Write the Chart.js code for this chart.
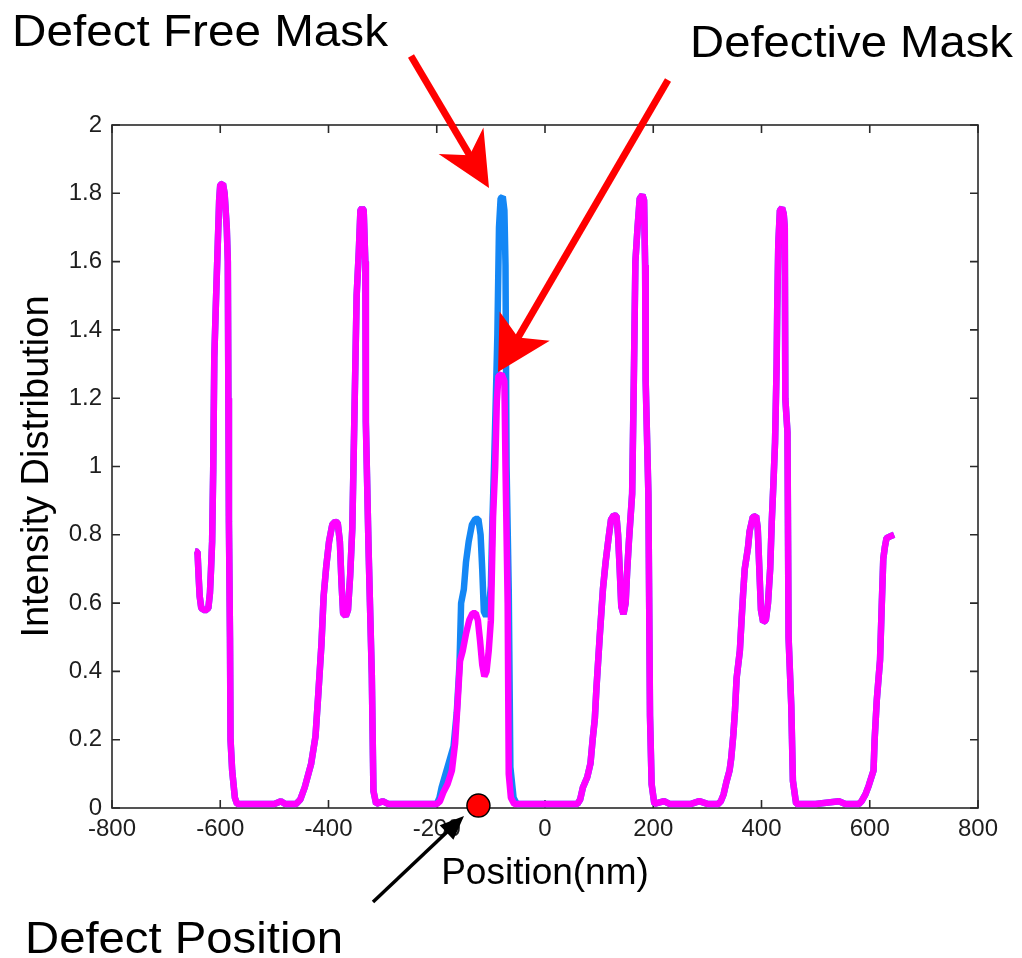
<!DOCTYPE html>
<html><head><meta charset="utf-8">
<script src="https://cdn.jsdelivr.net/npm/chart.js@4.4.1/dist/chart.umd.min.js"></script>
<style>html,body{margin:0;padding:0;background:#fff;}canvas{display:block;}</style>
</head><body>
<canvas id="c" width="1022" height="958" style="width:1022px;height:958px"></canvas>
<script>
// ---- tick values / labels ----
const xTickValues = [-800,-600,-400,-200,0,200,400,600,800];
const xTickLabels = ['-800','-600','-400','-200','0','200','400','600','800'];
const yTickValues = [0,0.2,0.4,0.6,0.8,1,1.2,1.4,1.6,1.8,2];
const yTickLabels = ['0','0.2','0.4','0.6','0.8','1','1.2','1.4','1.6','1.8','2'];

// ---- series (position in nm, intensity) ----
// left part, identical for both masks
const sharedLeftX = [-647,-642,-640,-638,-635,-628,-622,-619,-617,-615,-613,-611,-608,-605,-602,-600,-595,-592,-588,-586,-585,-584,-582,-581,-578,-573,-569,-540,-500,-488,-480,-460,-452,-444,-432,-424,-419,-413,-409,-404,-399,-393,-388,-383,-379,-376,-373,-368,-364,-360,-356,-352,-348,-344,-341,-338,-335,-332,-331,-326,-320,-317,-312,-300,-290,-250,-220];
const sharedLeftY = [0.752,0.75,0.68,0.62,0.585,0.578,0.585,0.63,0.70,0.78,0.99,1.32,1.48,1.63,1.78,1.825,1.828,1.80,1.70,1.60,1.20,0.84,0.50,0.20,0.11,0.03,0.012,0.012,0.012,0.02,0.012,0.012,0.025,0.06,0.13,0.21,0.33,0.48,0.62,0.71,0.78,0.83,0.838,0.835,0.78,0.66,0.57,0.562,0.58,0.68,0.82,1.16,1.50,1.63,1.75,1.757,1.75,1.60,1.13,0.76,0.39,0.05,0.012,0.02,0.012,0.012,0.012];

// central period: defect free mask
const freeCenterX = [-200,-195,-191,-180,-169,-163,-158,-155,-150,-146,-141,-135,-129,-123,-119,-116,-113,-109,-104,-100,-97,-94,-91,-88,-85,-82,-78,-75,-73,-71,-67,-64,-58,-52,-20];
const freeCenterY = [0.012,0.03,0.06,0.12,0.18,0.28,0.42,0.60,0.64,0.72,0.78,0.83,0.846,0.846,0.80,0.70,0.575,0.562,0.58,0.65,0.85,1.01,1.19,1.385,1.70,1.785,1.79,1.75,1.59,1.00,0.64,0.12,0.03,0.012,0.012];

// central period: defective mask
const defCenterX = [-200,-194,-188,-180,-172,-166,-161,-157,-152,-146,-140,-134,-128,-124,-120,-116,-112,-108,-104,-100,-96,-92,-89,-86,-80,-75,-73,-69,-67,-63,-57,-20];
const defCenterY = [0.012,0.02,0.045,0.07,0.11,0.19,0.32,0.43,0.46,0.51,0.55,0.57,0.57,0.55,0.49,0.42,0.385,0.40,0.46,0.55,0.85,1.00,1.19,1.265,1.27,1.25,1.00,0.60,0.10,0.03,0.012,0.012];

// right part, identical for both masks
const sharedRightX = [20,40,60,65,70,78,84,88,92,95,101,107,112,117,122,127,132,135,138,141,145,149,152,155,158,161,164,167,171,175,180,183,185,186,191,194,197,202,220,230,270,285,300,320,325,330,335,341,344,348,351,354,360,363,366,369,375,378,384,390,393,396,399,403,408,412,416,419,422,425,428,429,431,434,438,441,443,444,448,450,455,458,464,500,543,555,580,585,592,598,603,607,609,613,616,619,622,625,628,631,637,645];
const sharedRightY = [0.012,0.012,0.012,0.025,0.06,0.09,0.13,0.20,0.26,0.35,0.50,0.64,0.72,0.785,0.845,0.857,0.855,0.80,0.70,0.59,0.568,0.60,0.70,0.78,0.85,0.92,1.24,1.60,1.70,1.785,1.795,1.78,1.59,1.25,0.92,0.27,0.07,0.012,0.02,0.012,0.012,0.02,0.012,0.012,0.02,0.04,0.075,0.11,0.145,0.215,0.285,0.38,0.46,0.545,0.627,0.70,0.762,0.81,0.852,0.855,0.82,0.70,0.58,0.545,0.55,0.60,0.70,0.84,0.95,1.07,1.30,1.456,1.65,1.75,1.757,1.74,1.70,1.20,1.10,0.50,0.30,0.08,0.012,0.012,0.02,0.012,0.012,0.02,0.04,0.065,0.09,0.11,0.20,0.316,0.375,0.433,0.585,0.73,0.765,0.79,0.795,0.80];

// defect location
const defectX = [-123];
const defectY = [0.007];

// ---- build point tables ----
function zip(xs, ys){ return xs.map((x,i)=>({x:x, y:ys[i]})); }
const freePoints = zip(sharedLeftX, sharedLeftY).concat(zip(freeCenterX, freeCenterY), zip(sharedRightX, sharedRightY));
const defPoints  = zip(sharedLeftX, sharedLeftY).concat(zip(defCenterX, defCenterY), zip(sharedRightX, sharedRightY));
const defectPoints = zip(defectX, defectY);

const FONT = '"Liberation Sans", Arial, Helvetica, sans-serif';

const framePlugin = {
  id:'frame',
  beforeDatasetsDraw(chart){
    const {ctx, chartArea:a, scales} = chart;
    const x = scales.x, y = scales.y;
    ctx.save();
    ctx.strokeStyle = '#2a2a2a';
    ctx.lineWidth = 1.6;
    ctx.strokeRect(a.left, a.top, a.right - a.left, a.bottom - a.top);
    const L = 8;
    ctx.beginPath();
    x.ticks.forEach(t => {
      const p = x.getPixelForValue(t.value);
      ctx.moveTo(p, a.bottom); ctx.lineTo(p, a.bottom - L);
      ctx.moveTo(p, a.top); ctx.lineTo(p, a.top + L);
    });
    y.ticks.forEach(t => {
      const p = y.getPixelForValue(t.value);
      ctx.moveTo(a.left, p); ctx.lineTo(a.left + L, p);
      ctx.moveTo(a.right, p); ctx.lineTo(a.right - L, p);
    });
    ctx.stroke();
    ctx.restore();
  }
};

function arrow(ctx, x0, y0, tx, ty, headLen, halfW, notch, width, color){
  const dx = tx - x0, dy = ty - y0, len = Math.hypot(dx, dy);
  const ux = dx/len, uy = dy/len, nx = -uy, ny = ux;
  const bx = tx - ux*headLen, by = ty - uy*headLen;
  const qx = tx - ux*notch, qy = ty - uy*notch;
  ctx.save();
  ctx.strokeStyle = color; ctx.lineWidth = width; ctx.lineCap = 'butt';
  ctx.beginPath(); ctx.moveTo(x0, y0); ctx.lineTo(qx + ux*1, qy + uy*1); ctx.stroke();
  ctx.fillStyle = color;
  ctx.beginPath();
  ctx.moveTo(tx, ty);
  ctx.lineTo(bx + nx*halfW, by + ny*halfW);
  ctx.lineTo(qx, qy);
  ctx.lineTo(bx - nx*halfW, by - ny*halfW);
  ctx.closePath(); ctx.fill();
  ctx.restore();
}

function stretchedText(ctx, text, left, baseline, width, size){
  ctx.save();
  ctx.font = size + 'px ' + FONT;
  const w = ctx.measureText(text).width;
  ctx.translate(left, baseline);
  ctx.scale(width / w, 1);
  ctx.fillStyle = '#000';
  ctx.textBaseline = 'alphabetic';
  ctx.textAlign = 'left';
  ctx.fillText(text, 0, 0);
  ctx.restore();
}

const annotationPlugin = {
  id:'annotations',
  afterDraw(chart){
    const ctx = chart.ctx;
    arrow(ctx, 411, 56, 489, 188, 55, 26, 38, 7, '#ff0000');
    arrow(ctx, 668, 80, 498, 372, 53, 29, 40, 7, '#ff0000');
    arrow(ctx, 373, 902, 464, 816, 24, 10, 24, 3.5, '#000000');
    stretchedText(ctx, 'Defect Free Mask', 12, 46, 376, 45);
    stretchedText(ctx, 'Defective Mask', 690, 57, 323, 45);
    stretchedText(ctx, 'Defect Position', 25, 953, 318, 45);
  }
};

new Chart(document.getElementById('c'), {
  type: 'line',
  data: {
    datasets: [
      { type:'scatter', label:'Defect Position', data: defectPoints, showLine:false,
        pointRadius: 11.5, pointBackgroundColor:'#ff0000', pointBorderColor:'#000', pointBorderWidth:1.5,
        clip:false, order:0 },
      { label:'Defective Mask', data: defPoints, borderColor:'#ff00ff', borderWidth:6.5,
        pointRadius:0, tension:0, borderJoinStyle:'bevel', borderCapStyle:'butt', fill:false, order:1 },
      { label:'Defect Free Mask', data: freePoints, borderColor:'#1487f5', borderWidth:6.5,
        pointRadius:0, tension:0, borderJoinStyle:'bevel', borderCapStyle:'butt', fill:false, order:2 }
    ]
  },
  options: {
    responsive:false,
    devicePixelRatio:1,
    animation:false,
    events:[],
    layout:{ padding:{ top:125, right:44, left:0, bottom:0 } },
    plugins:{ legend:{display:false}, tooltip:{enabled:false} },
    scales:{
      x:{
        type:'linear', min:-800, max:800,
        afterBuildTicks: s => { s.ticks = xTickValues.map(v => ({value:v})); },
        afterFit: s => { s.height = 150; },
        grid:{ display:false, drawTicks:false },
        border:{ display:false },
        ticks:{ callback:(v,i) => xTickLabels[i], font:{family:FONT, size:24}, color:'#1e1e1e', padding:7, maxRotation:0, autoSkip:false },
        title:{ display:true, text:'Position(nm)', font:{family:FONT, size:37}, color:'#000', padding:{top:0, bottom:62} }
      },
      y:{
        type:'linear', min:0, max:2,
        afterBuildTicks: s => { s.ticks = yTickValues.map(v => ({value:v})); },
        afterFit: s => { s.width = 112; },
        grid:{ display:false, drawTicks:false },
        border:{ display:false },
        ticks:{ callback:(v,i) => yTickLabels[i], font:{family:FONT, size:24}, color:'#1e1e1e', padding:10, autoSkip:false },
        title:{ display:true, text:'Intensity Distribution', font:{family:FONT, size:38}, color:'#000', padding:{top:15, bottom:0} }
      }
    }
  },
  plugins:[framePlugin, annotationPlugin]
});
</script>
</body></html>
